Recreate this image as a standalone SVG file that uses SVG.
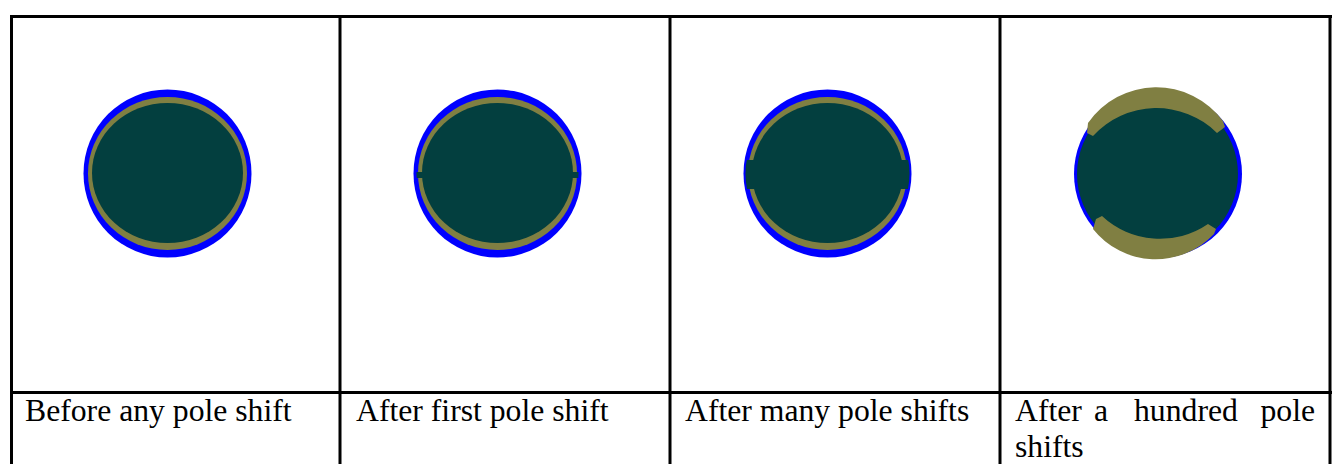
<svg xmlns="http://www.w3.org/2000/svg" width="1332" height="464" viewBox="0 0 1332 464">
  <style>
    .rule { fill: #000; }
    .blue { fill: #0000ff; }
    .olive { fill: #807f42; }
    .core { fill: #033f3f; }
    .label { font-family: "Liberation Serif", "Times New Roman", serif; font-size: 31.7px; fill: #000; }
  </style>
  <defs>
    <clipPath id="ring2">
      <ellipse cx="497.5" cy="173.5" rx="81" ry="78"/>
    </clipPath>
    <clipPath id="ring3">
      <ellipse cx="827.5" cy="173.5" rx="82" ry="79"/>
    </clipPath>
  </defs>

  <rect width="1332" height="464" fill="#fff"/>

  <!-- table grid -->
  <g id="table">
    <rect class="rule" x="10" y="15" width="1322" height="3"/>
    <rect class="rule" x="10" y="15" width="3" height="449"/>
    <rect class="rule" x="338.5" y="15" width="3" height="449"/>
    <rect class="rule" x="668.5" y="15" width="3" height="449"/>
    <rect class="rule" x="998.5" y="15" width="3" height="449"/>
    <rect class="rule" x="1328.5" y="15" width="3" height="449"/>
    <rect class="rule" x="10" y="391" width="1322" height="3"/>
  </g>

  <!-- stage 1: intact ring -->
  <g id="stage-before">
    <circle class="blue" cx="167.5" cy="173.5" r="84"/>
    <ellipse class="olive" cx="167.5" cy="173.5" rx="79.5" ry="76.5"/>
    <ellipse class="core" cx="167.5" cy="173" rx="75.5" ry="70"/>
  </g>

  <!-- stage 2: thin break at the equator -->
  <g id="stage-first">
    <circle class="blue" cx="497.5" cy="173.5" r="84"/>
    <ellipse class="olive" cx="497.5" cy="173.5" rx="79.5" ry="76.5"/>
    <ellipse class="core" cx="497.5" cy="173" rx="75.5" ry="70"/>
    <rect class="core" x="414" y="172" width="167" height="6" clip-path="url(#ring2)"/>
  </g>

  <!-- stage 3: wide equatorial gap -->
  <g id="stage-many">
    <circle class="blue" cx="827.5" cy="173.5" r="84"/>
    <ellipse class="olive" cx="827.5" cy="173.5" rx="79.5" ry="76.5"/>
    <ellipse class="core" cx="827.5" cy="173" rx="75.5" ry="70"/>
    <rect class="core" x="744" y="160" width="167" height="29" clip-path="url(#ring3)"/>
  </g>

  <!-- stage 4: ring broken into two thick caps -->
  <g id="stage-hundred">
    <circle class="blue" cx="1158" cy="174" r="84"/>
    <ellipse class="core" cx="1157.5" cy="174" rx="80.5" ry="80"/>
    <path class="olive" d="M1087,133 L1088,123 A83,83 0 0 1 1223,121 L1225,127 L1217,133 A86,86 0 0 0 1093,136 Z"/>
    <path class="olive" d="M1093,229 L1096,219 L1102,216 A85,85 0 0 0 1208,224 L1216,229 L1214,234 A80,80 0 0 1 1093,229 Z"/>
  </g>

  <!-- captions -->
  <g id="captions">
    <text class="label" x="25" y="421">Before any pole shift</text>
    <text class="label" x="356" y="421">After first pole shift</text>
    <text class="label" x="685" y="421">After many pole shifts</text>
    <text class="label" x="1015" y="421">After</text>
    <text class="label" x="1094" y="421">a</text>
    <text class="label" x="1134" y="421">hundred</text>
    <text class="label" x="1315" y="421" text-anchor="end">pole</text>
    <text class="label" x="1015" y="457">shifts</text>
  </g>
</svg>
